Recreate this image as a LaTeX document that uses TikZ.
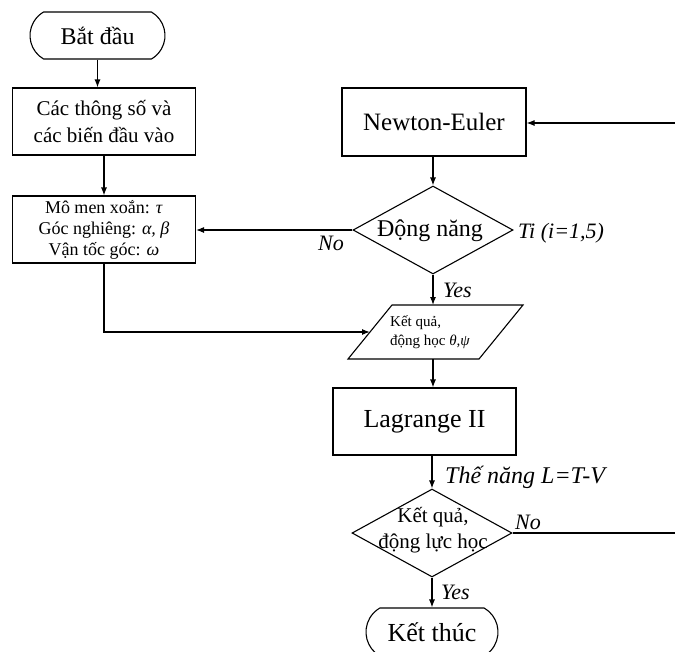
\documentclass[tikz,border=0pt]{standalone}
\usepackage{fontspec}
\setmainfont{Liberation Serif}
\usetikzlibrary{shapes.geometric,shapes.misc,arrows.meta}
\begin{document}
\begin{tikzpicture}[x=1pt,y=-1pt,
  box/.style={draw, line width=1.1pt, rectangle, inner sep=0pt, align=center},
  term/.style={draw, line width=1.1pt, rounded rectangle, rounded rectangle arc length=120, inner sep=0pt},
  dec/.style={draw, line width=1.1pt, diamond, inner sep=0pt, minimum width=160pt, minimum height=88pt, shape aspect=1.82},
  arr/.style={line width=1.1pt, -{Latex[length=8pt,width=6pt]}},
  ln/.style={line width=1.1pt},
  lab/.style={font=\fontsize{22}{24}\selectfont\itshape, inner sep=0pt},
  txt/.style={inner sep=0pt, align=center},
]
\useasboundingbox (0,0) rectangle (675,651);

% nodes
\node[term, minimum width=135pt, minimum height=47pt, font=\fontsize{24}{26}\selectfont] (start) at (97.5,35.5) {Bắt đầu};
\node[box, minimum width=183pt, minimum height=67pt, font=\fontsize{21}{27}\selectfont] (inp) at (104,121.5) {Các thông số và\\các biến đầu vào};
\node[box, minimum width=183pt, minimum height=67pt, font=\fontsize{18}{21}\selectfont] (var) at (104,229.5) {Mô men xoắn: \textit{τ}\\Góc nghiêng: \textit{α, β}\\Vận tốc góc: \textit{ω}};
\node[box, minimum width=184pt, minimum height=68pt, font=\fontsize{25}{27}\selectfont] (ne) at (434,122) {Newton-Euler};
\node[dec] (d1) at (433,230) {};
\node[txt, font=\fontsize{24}{26}\selectfont] (d1t) at (430,231) {Động năng};

% parallelogram
\draw[ln] (348,359) -- (392,305) -- (523,305) -- (479,359) -- cycle;
\coordinate (paraL) at (370,332);
\coordinate (paraT) at (433,305);
\coordinate (paraB) at (433,359);
\node[inner sep=0pt, align=left, anchor=west, font=\fontsize{15}{19}\selectfont] (parat) at (390,332) {Kết quả,\\động học \textit{θ,ψ}};

\node[box, minimum width=183pt, minimum height=67pt, font=\fontsize{26}{28}\selectfont] (lag) at (424.5,421.5) {Lagrange II};
\node[dec] (d2) at (432,533) {};
\node[txt, font=\fontsize{21}{26}\selectfont] (d2t) at (433,530) {Kết quả,\\động lực học};
\node[term, minimum width=132pt, minimum height=48pt, font=\fontsize{26}{28}\selectfont] (end) at (432,632) {Kết thúc};

\coordinate (rin) at (675,123);
\coordinate (rout) at (675,533);

% connectors
\draw[arr] (start.south) -- (start.south |- inp.north);
\draw[arr] (inp.south) -- (inp.south |- var.north);
\draw[arr] (rin) -- (ne.east |- rin);
\draw[arr] (d1.north |- ne.south) -- (d1.north);
\draw[arr] (d1.west) -- (var.east |- d1.west);
\draw[arr] (d1.south) -- (paraT);
\draw[arr] (var.south) -- (var.south |- paraL) -- (paraL);
\draw[arr] (paraB) -- (paraB |- lag.north);
\draw[arr] (d2.north |- lag.south) -- (d2.north);
\draw[ln] (d2.east) -- (rout);
\draw[arr] (d2.south) -- (d2.south |- end.north);

% labels
\node[lab, anchor=west] (lti) at (518,233) {Ti (i=1,5)};
\node[lab] (lno1) at (331,243) {No};
\node[lab, anchor=west] (lyes1) at (443,290) {Yes};
\node[lab, anchor=west, font=\fontsize{24}{26}\selectfont\itshape] (lthe) at (445,477) {Thế năng L=T-V};
\node[lab, anchor=west] (lno2) at (515,522) {No};
\node[lab, anchor=west] (lyes2) at (441,592) {Yes};
\end{tikzpicture}
\end{document}
